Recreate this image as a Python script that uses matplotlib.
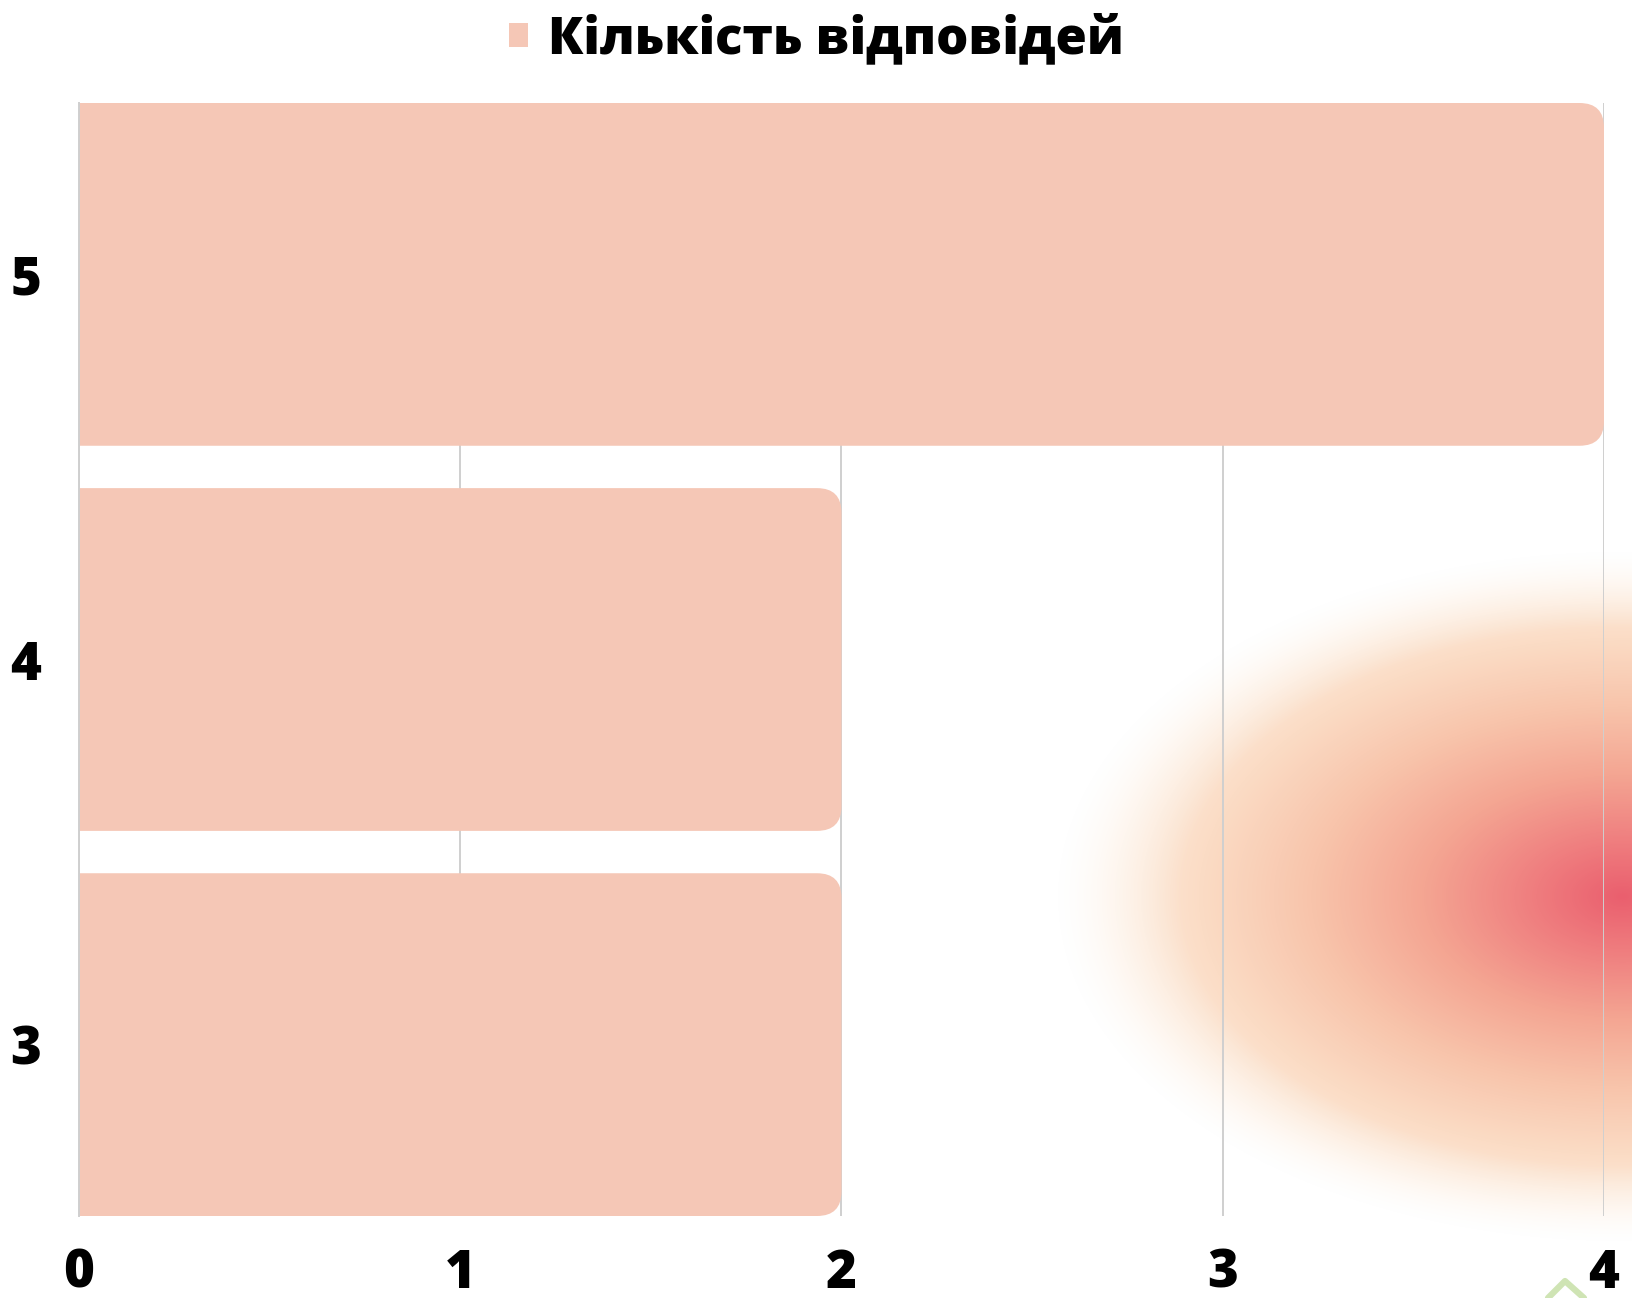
import numpy as np
import matplotlib
matplotlib.use("Agg")
from matplotlib import pyplot as plt
from matplotlib.patches import FancyBboxPatch, Patch
from matplotlib.colors import LinearSegmentedColormap
from matplotlib.lines import Line2D

categories = ["3", "4", "5"]
answers = [2, 2, 4]
x_ticks = [0, 1, 2, 3, 4]
series_name = "Кількість відповідей"

W, H = 1633, 1298
BAR_COLOR = "#f5c7b6"
GRID_COLOR = "#cfcfcf"

plt.rcParams["font.family"] = ["Open Sans", "DejaVu Sans"]

fig = plt.figure(figsize=(W / 100, H / 100), dpi=100)
fig.patch.set_facecolor("white")

# soft radial glow in the lower right corner
bg = fig.add_axes([0, 0, 1, 1], zorder=-1)
yy, xx = np.mgrid[0:H, 0:W]
cx, cy, rx, ry = 1622, 896, 565, 345
d = np.sqrt(((xx - cx) / rx) ** 2 + ((yy - cy) / ry) ** 2)
glow = LinearSegmentedColormap.from_list("glow", [
    (0.0, "#ea5f6e"), (0.15, "#ef7c7e"), (0.35, "#f4a592"),
    (0.55, "#f8c4ab"), (0.75, "#fbdcc5"), (0.9, "#fdecdc"), (1.0, "#fef6ee")])
rgba = glow(np.clip(d, 0, 1))
rgba[..., 3] = np.clip((1.0 - d) / 0.22, 0, 1)
bg.imshow(rgba, extent=(0, W, H, 0), aspect="auto", interpolation="bilinear")
bg.set_xlim(0, W)
bg.set_ylim(H, 0)
bg.axis("off")

# little green mark at the bottom edge
fig.add_artist(Line2D([1548 / W, 1565 / W, 1584 / W], [0, 17 / H, 0],
                      transform=fig.transFigure, color="#cfe4b4", lw=4.5,
                      solid_joinstyle="round", solid_capstyle="round"))

ax = fig.add_axes([79 / W, (H - 1216) / H, (1604 - 79) / W, (1216 - 103) / H])
ax.set_facecolor("none")

bar_h = 0.89
pos = np.arange(len(categories))
bars = ax.barh(pos, answers, height=bar_h, color=BAR_COLOR)

# swap plain rectangles for ones with rounded ends
r = 0.064
for b in bars:
    b.set_visible(False)
    rb = FancyBboxPatch((b.get_x() - r, b.get_y()), b.get_width() + r, b.get_height(),
                        boxstyle=f"round,pad=0,rounding_size={r}",
                        facecolor=BAR_COLOR, edgecolor="none", zorder=2)
    ax.add_patch(rb)

ax.set_xlim(0, 4)
ax.set_ylim(-bar_h / 2, len(categories) - 1 + bar_h / 2)
ax.set_xticks(x_ticks)
ax.set_yticks(pos)
ax.set_yticklabels(categories)

ax.set_axisbelow(True)
ax.grid(axis="x", color=GRID_COLOR, lw=1.4)
ax.grid(axis="y", visible=False)
for s in ["top", "right", "bottom"]:
    ax.spines[s].set_visible(False)
ax.spines["left"].set_color(GRID_COLOR)
ax.spines["left"].set_linewidth(1.4)

ax.tick_params(axis="both", length=0, labelsize=38)
ax.tick_params(axis="y", pad=27)
ax.tick_params(axis="x", pad=23)
for lbl in ax.get_xticklabels() + ax.get_yticklabels():
    lbl.set_fontweight("heavy")

handle = Patch(facecolor=BAR_COLOR, edgecolor="none")
leg = fig.legend(handles=[handle], labels=[series_name], loc="center",
                 bbox_to_anchor=(0.5, 1 - 39 / H), frameon=False,
                 prop={"size": 36.5, "weight": "heavy"},
                 handlelength=0.36, handleheight=0.36, handletextpad=0.4)

fig.savefig("out.png", dpi=100)
